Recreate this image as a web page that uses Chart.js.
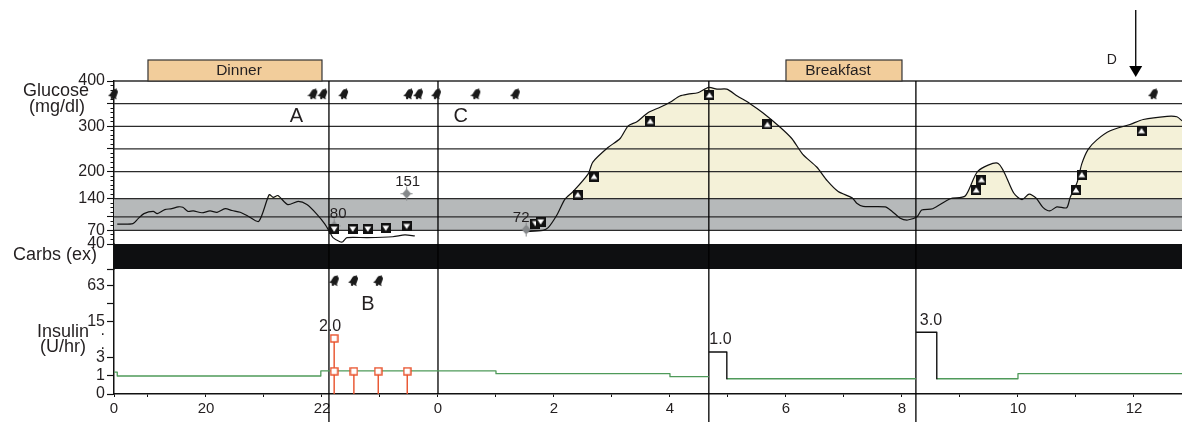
<!DOCTYPE html>
<html><head><meta charset="utf-8">
<style>html,body{margin:0;padding:0;background:#fff}canvas{display:block}</style>
<script src="https://cdn.jsdelivr.net/npm/chart.js@4"></script>
</head><body><canvas id="c" width="1182" height="422"></canvas>
<script>
// ---- data ----
const axisHourStart = 18.414, axisHourEnd = 36.828;
const xTickHours = [18.414,19,20,21,22,23,24,25,26,27,28,29,30,31,32,33,34,35,36];
const xLabelHours = [18.414,20,22,24,26,28,30,32,34,36];
const xLabelTexts = ['0','20','22','0','2','4','6','8','10','12'];

const glucoseTickLabels = [400,300,200,140,70,40];
const glucoseLongTicks = [400,350,300,250,200,140,100,70,40];
const glucoseGridLevels = [400,350,300,250,200,140,100,70];
const targetRange = [70,140];

const insulinTickValues = [0,1,3,15,31,63];
const insulinTickTexts = ['0','1','3','15','','63'];

const glucoseHours = [18.47,18.74,18.83,18.93,19.09,19.16,19.29,19.41,19.52,19.60,19.69,19.78,19.93,20.07,20.19,20.33,20.45,20.59,20.72,20.91,21.09,21.16,21.24,21.41,21.59,21.74,21.91,22.05,22.14,22.19,22.31,22.36,22.43,22.78,23.22,23.43,23.60,
 24.5,
 25.50,25.81,25.90,26.05,26.19,26.33,26.59,26.67,26.93,27.14,27.28,27.43,27.62,27.83,28.00,28.17,28.31,28.48,28.67,28.81,28.98,29.16,29.38,29.60,29.90,30.10,30.29,30.53,30.71,30.90,31.14,31.22,31.33,31.71,31.83,31.97,32.10,32.26,32.34,32.53,32.83,33.09,33.31,33.66,33.93,34.07,34.19,34.31,34.43,34.55,34.67,34.84,34.90,35.02,35.10,35.21,35.36,35.59,35.93,36.16,36.57,36.74,36.83];
const glucoseValues = [84,85,96,107,112,107,116,118,122,121,112,113,109,113,110,118,114,110,102,90,149,143,147,127,134,127,106,84,65,54,45,45,54,54,56,60,58,
 null,
 67,70,76,104,139,156,195,221,253,273,301,310,330,342,353,367,371,374,386,382,382,367,350,330,298,273,238,210,180,156,142,130,123,122,112,97,93,100,115,118,140,146,201,218,152,138,150,142,121,113,122,120,143,176,217,249,270,290,304,315,322,321,312];

const sensorDownHours = [22.21,22.53,22.79,23.10,23.46,25.68,25.77];
const sensorDownValues = [73,73,73,75,79,85,89];
const sensorUpHours = [26.41,26.69,27.66,28.68,29.68,33.28,33.37,35.00,35.10,36.13];
const sensorUpValues = [149,189,311,369,304,159,182,159,193,290];

const readingHours = [22.21,23.46,25.52];
const readingValues = [80,151,72];
const readingTexts = ['80','151','72'];
const readingTextDx = [4,1,-5];

const bellHoursTop = [18.41,21.85,22.02,22.38,23.50,23.67,23.98,24.66,25.34,36.34];
const bellLevelTop = 371;
const bellHoursInsulin = [22.22,22.55,22.98];
const bellLevelInsulin = 77;

const basalHours = [18.41,18.47,21.98,25.0,28.0,28.67,28.8,28.98,32.24,32.4,32.6,34.0,36.83];
const basalRates = [1.33,1.0,1.43,1.19,0.95,0.95,null,0.8,0.8,null,0.8,1.19,1.19];

const bolusStemHours = [22.21,22.21,22.55,22.97,23.47];
const bolusStemRates = [7.5,1.4,1.4,1.4,1.4];
const squareWaveHours = [28.67,28.98,28.98,30,32.24,32.60,32.60];
const squareWaveRates = [4.04,4.04,0.8,null,9.8,9.8,0.8];
const doseLabelHours = [22.14,28.87,32.50];
const doseLabelRates = [12.2,7,15.6];
const doseLabelTexts = ['2.0','1.0','3.0'];

const eventLineHours = [22.12,24,28.67,32.24];
const eventLineBelowAxis = [true,false,true,true];

const meals = [['Dinner',19,22,4],['Breakfast',30,32,-6]];
const letterTop = [['A',21.56,321],['C',24.39,321]];
const letterInsulin = [['B',22.79,30]];
const arrowHour = 36.03;

// ---- helpers ----
const toLog = v => v === null ? null : Math.log2(v + 1);
const pts = (xs, ys, f = v => v) => xs.map((x, i) => ({x, y: f(ys[i])}));
const FONT = '"Liberation Sans", Arimo, Helvetica, Arial, sans-serif';
const INK = '#231f20';

function icon(w, h, draw){
  const c = document.createElement('canvas'); c.width = w; c.height = h;
  draw(c.getContext('2d'), w, h); return c;
}
const sensorIcon = down => icon(10, 10, (g, w, h) => {
  g.fillStyle = '#111'; g.fillRect(0, 0, w, h);
  g.fillStyle = '#fff'; g.beginPath();
  if (down) { g.moveTo(1.6, 2.6); g.lineTo(8.4, 2.6); g.lineTo(5, 7.8); }
  else { g.moveTo(1.6, 7.4); g.lineTo(8.4, 7.4); g.lineTo(5, 2.2); }
  g.closePath(); g.fill();
});
const bellIcon = icon(12, 12, g => {
  g.translate(6, 6); g.rotate(0.45); g.fillStyle = '#1a1a1a';
  g.beginPath(); g.arc(0, -2.2, 3, Math.PI, 0); g.lineTo(3.4, 2); g.lineTo(4.8, 3.6); g.lineTo(-4.8, 3.6); g.lineTo(-3.4, 2); g.closePath(); g.fill();
  g.beginPath(); g.arc(0, 4.3, 1.2, 0, 2 * Math.PI); g.fill();
  g.fillRect(-0.7, -6, 1.4, 1.6);
});
const readingIcon = icon(13, 15, g => {
  g.fillStyle = '#85888a'; g.beginPath(); g.moveTo(6.5, 2.5); g.lineTo(11, 7.5); g.lineTo(6.5, 12.5); g.lineTo(2, 7.5); g.closePath(); g.fill();
  g.fillRect(6, 0.5, 1, 14); g.fillRect(0.5, 7, 12, 1);
});
const squareIcon = icon(9, 9, g => {
  g.fillStyle = '#fff'; g.fillRect(1, 1, 7, 7);
  g.strokeStyle = '#e8502a'; g.lineWidth = 1.4; g.strokeRect(1, 1, 7, 7);
});

const stems = [];
bolusStemHours.forEach((h, i) => { stems.push({x: h, y: 0}, {x: h, y: toLog(bolusStemRates[i])}, {x: h, y: null}); });
const eventLines = [];
const insulinAxisFloor = -1.556, insulinAxisCeil = 17.39;
eventLineHours.forEach((h, i) => { eventLines.push({x: h, y: eventLineBelowAxis[i] ? insulinAxisFloor : 0}, {x: h, y: insulinAxisCeil}, {x: h, y: null}); });

const lineBase = {pointRadius: 0, tension: 0, borderJoinStyle: 'round'};
const datasets = [
  {...lineBase, label: 'Sensor high', yAxisID: 'y', showLine: false, data: pts(sensorUpHours, sensorUpValues), pointStyle: sensorIcon(false), pointRadius: 5, clip: false},
  {...lineBase, label: 'Sensor low', yAxisID: 'y', showLine: false, data: pts(sensorDownHours, sensorDownValues), pointStyle: sensorIcon(true), pointRadius: 5, clip: false},
  {...lineBase, label: 'Meter', yAxisID: 'y', showLine: false, data: pts(readingHours, readingValues), pointStyle: readingIcon, pointRadius: 6},
  {...lineBase, label: 'Alarms', yAxisID: 'y', showLine: false, data: bellHoursTop.map(x => ({x, y: bellLevelTop})), pointStyle: bellIcon, pointRadius: 6, clip: false},
  {...lineBase, label: 'Alarms insulin', yAxisID: 'yInsulin', showLine: false, data: bellHoursInsulin.map(x => ({x, y: toLog(bellLevelInsulin)})), pointStyle: bellIcon, pointRadius: 6},
  {...lineBase, label: 'Bolus', yAxisID: 'yInsulin', showLine: false, data: stems.filter(p => p.y > 0), pointStyle: squareIcon, pointRadius: 5},
  {...lineBase, label: 'Bolus stems', yAxisID: 'yInsulin', data: stems, borderColor: '#e8502a', borderWidth: 1.4, spanGaps: false},
  {...lineBase, label: 'Square wave', yAxisID: 'yInsulin', data: pts(squareWaveHours, squareWaveRates, toLog), borderColor: '#111', borderWidth: 1.4, spanGaps: false},
  {...lineBase, label: 'Basal', yAxisID: 'yInsulin', data: pts(basalHours, basalRates, toLog), borderColor: '#4f9a5a', borderWidth: 1.3, stepped: 'before', spanGaps: false},
  {...lineBase, label: 'Glucose', yAxisID: 'y', data: pts(glucoseHours, glucoseValues), borderColor: '#111', borderWidth: 1.2, spanGaps: false, tension: 0.25},
  {...lineBase, label: 'Events', yAxisID: 'yInsulin', data: eventLines, borderColor: '#000', borderWidth: 1.3, spanGaps: false, clip: false},
  ...glucoseGridLevels.map(v => ({...lineBase, label: 'Grid ' + v, yAxisID: 'y', data: [{x: axisHourStart, y: v}, {x: axisHourEnd, y: v}], borderColor: '#2b2b2b', borderWidth: 1.3, clip: false})),
  {...lineBase, label: 'Carbs band', yAxisID: 'yCarbs', data: [{x: axisHourStart, y: 1}, {x: axisHourEnd, y: 1}], borderWidth: 0, fill: {target: {value: 0}}, backgroundColor: '#0e0f11'},
  {...lineBase, label: 'Target', yAxisID: 'y', data: [{x: axisHourStart, y: targetRange[1]}, {x: axisHourEnd, y: targetRange[1]}], borderWidth: 0, fill: {target: {value: targetRange[0]}}, backgroundColor: '#b6b9ba'},
  {...lineBase, label: 'Above target', yAxisID: 'y', data: pts(glucoseHours, glucoseValues), borderWidth: 0, spanGaps: false, tension: 0.25, fill: {target: {value: targetRange[1]}, above: '#f4f1d8', below: 'rgba(0,0,0,0)'}},
];

const annotationPlugin = {
  id: 'annotations',
  afterDraw(chart) {
    const g = chart.ctx, x = chart.scales.x, y = chart.scales.y, yi = chart.scales.yInsulin;
    const top = chart.chartArea.top;
    g.save(); g.textAlign = 'center'; g.textBaseline = 'middle'; g.fillStyle = INK;
    // meals
    meals.forEach(([name, a, b, dx]) => {
      const l = x.getPixelForValue(a), r = x.getPixelForValue(b);
      g.fillStyle = '#f2cd9b'; g.strokeStyle = '#333'; g.lineWidth = 1.2;
      g.fillRect(l, top - 21, r - l, 21); g.strokeRect(l, top - 21, r - l, 21);
      g.fillStyle = INK; g.font = '15.5px ' + FONT; g.fillText(name, (l + r) / 2 + dx, top - 10.5);
    });
    // axis titles
    g.font = '18px ' + FONT;
    [['Glucose', 56, 91], ['(mg/dl)', 57, 107], ['Carbs (ex)', 55, 255], ['Insulin', 63, 332], ['(U/hr)', 63, 347]]
      .forEach(([t, px, py]) => g.fillText(t, px, py));
    // letters
    g.font = '20px ' + FONT;
    letterTop.forEach(([t, h, v]) => g.fillText(t, x.getPixelForValue(h), y.getPixelForValue(v)));
    letterInsulin.forEach(([t, h, v]) => g.fillText(t, x.getPixelForValue(h), yi.getPixelForValue(toLog(v))));
    // readings
    g.font = '15px ' + FONT;
    readingTexts.forEach((t, i) => g.fillText(t, x.getPixelForValue(readingHours[i]) + readingTextDx[i], y.getPixelForValue(readingValues[i]) - 12));
    // dose labels
    g.font = '16px ' + FONT;
    doseLabelTexts.forEach((t, i) => g.fillText(t, x.getPixelForValue(doseLabelHours[i]), yi.getPixelForValue(toLog(doseLabelRates[i]))));
    // arrow D
    const ax = x.getPixelForValue(arrowHour);
    g.strokeStyle = '#111'; g.fillStyle = '#000'; g.lineWidth = 1.4;
    g.beginPath(); g.moveTo(ax, top - 71); g.lineTo(ax, top - 15); g.stroke();
    g.beginPath(); g.moveTo(ax - 6.5, top - 15); g.lineTo(ax + 6.5, top - 15); g.lineTo(ax, top - 4); g.closePath(); g.fill();
    g.fillStyle = INK; g.font = '14px ' + FONT; g.fillText('D', ax - 24, top - 21);
    g.restore();
  }
};

const tickLenTick = (isLong, long, short) => isLong ? [] : [0, long - short, short, 100];

new Chart(document.getElementById('c'), {
  type: 'line',
  data: {datasets},
  plugins: [annotationPlugin],
  options: {
    responsive: false, animation: false, parsing: true, normalized: false,
    layout: {autoPadding: false, padding: {left: 0, right: 0, top: 81, bottom: 0}},
    plugins: {legend: {display: false}, tooltip: {enabled: false}},
    events: [],
    scales: {
      x: {
        type: 'linear', min: axisHourStart, max: axisHourEnd, position: 'bottom',
        afterBuildTicks(s) { s.ticks = xTickHours.map(value => ({value})); },
        afterFit(s) { s.height = 28; s.paddingRight = 0; s.paddingLeft = 0; },
        grid: {display: true, drawOnChartArea: false, tickLength: 3, tickColor: '#111', tickWidth: 1},
        border: {color: '#111', width: 1.5},
        ticks: {
          autoSkip: false, maxRotation: 0, minRotation: 0, padding: 3, color: INK, font: {family: FONT, size: 15},
          callback(v) { const i = xLabelHours.indexOf(v); return i < 0 ? '' : xLabelTexts[i]; }
        }
      },
      yInsulin: {
        type: 'linear', position: 'left', stack: 'lanes', stackWeight: 125, min: 0, max: 6.944,
        afterBuildTicks(s) {
          s.ticks = insulinTickValues.map(v => ({value: toLog(v)})).concat([{value: 6.944}, {value: 3.53}, {value: 2.72}]);
        },
        afterFit(s) { s.width = 114; },
        grid: {
          drawOnChartArea: false, tickLength: 7, tickWidth: 1.2,
          tickColor: c => (c.tick.value === 3.53 || c.tick.value === 2.72) ? 'rgba(0,0,0,0)' : '#111'
        },
        border: {color: '#111', width: 1.5},
        ticks: {
          autoSkip: false, padding: 2, color: INK, font: {family: FONT, size: 16},
          callback(v) {
            if (v === 3.53 || v === 2.72) return '.';
            const i = insulinTickValues.findIndex(t => toLog(t) === v);
            return i < 0 ? '' : insulinTickTexts[i];
          }
        }
      },
      yCarbs: {
        type: 'linear', position: 'left', stack: 'lanes', stackWeight: 25, min: 0, max: 1,
        afterBuildTicks(s) { s.ticks = []; },
        afterFit(s) { s.width = 114; },
        grid: {drawOnChartArea: false, drawTicks: false},
        border: {color: '#111', width: 1.5},
        ticks: {display: false}
      },
      y: {
        type: 'linear', position: 'left', stack: 'lanes', stackWeight: 163, min: 40, max: 400,
        afterBuildTicks(s) {
          const t = []; for (let v = 400; v >= 40; v -= 10) t.push({value: v}); s.ticks = t;
        },
        afterFit(s) { s.width = 114; },
        grid: {
          drawOnChartArea: false, tickLength: 7, tickWidth: 1.1, tickColor: '#111',
          tickBorderDash: c => tickLenTick(glucoseLongTicks.includes(c.tick.value), 7, 3.5)
        },
        border: {color: '#111', width: 1.5},
        ticks: {
          autoSkip: false, padding: 2, color: INK, font: {family: FONT, size: 16},
          callback(v) { return glucoseTickLabels.includes(v) ? String(v) : ''; }
        }
      }
    }
  }
});
</script></body></html>
